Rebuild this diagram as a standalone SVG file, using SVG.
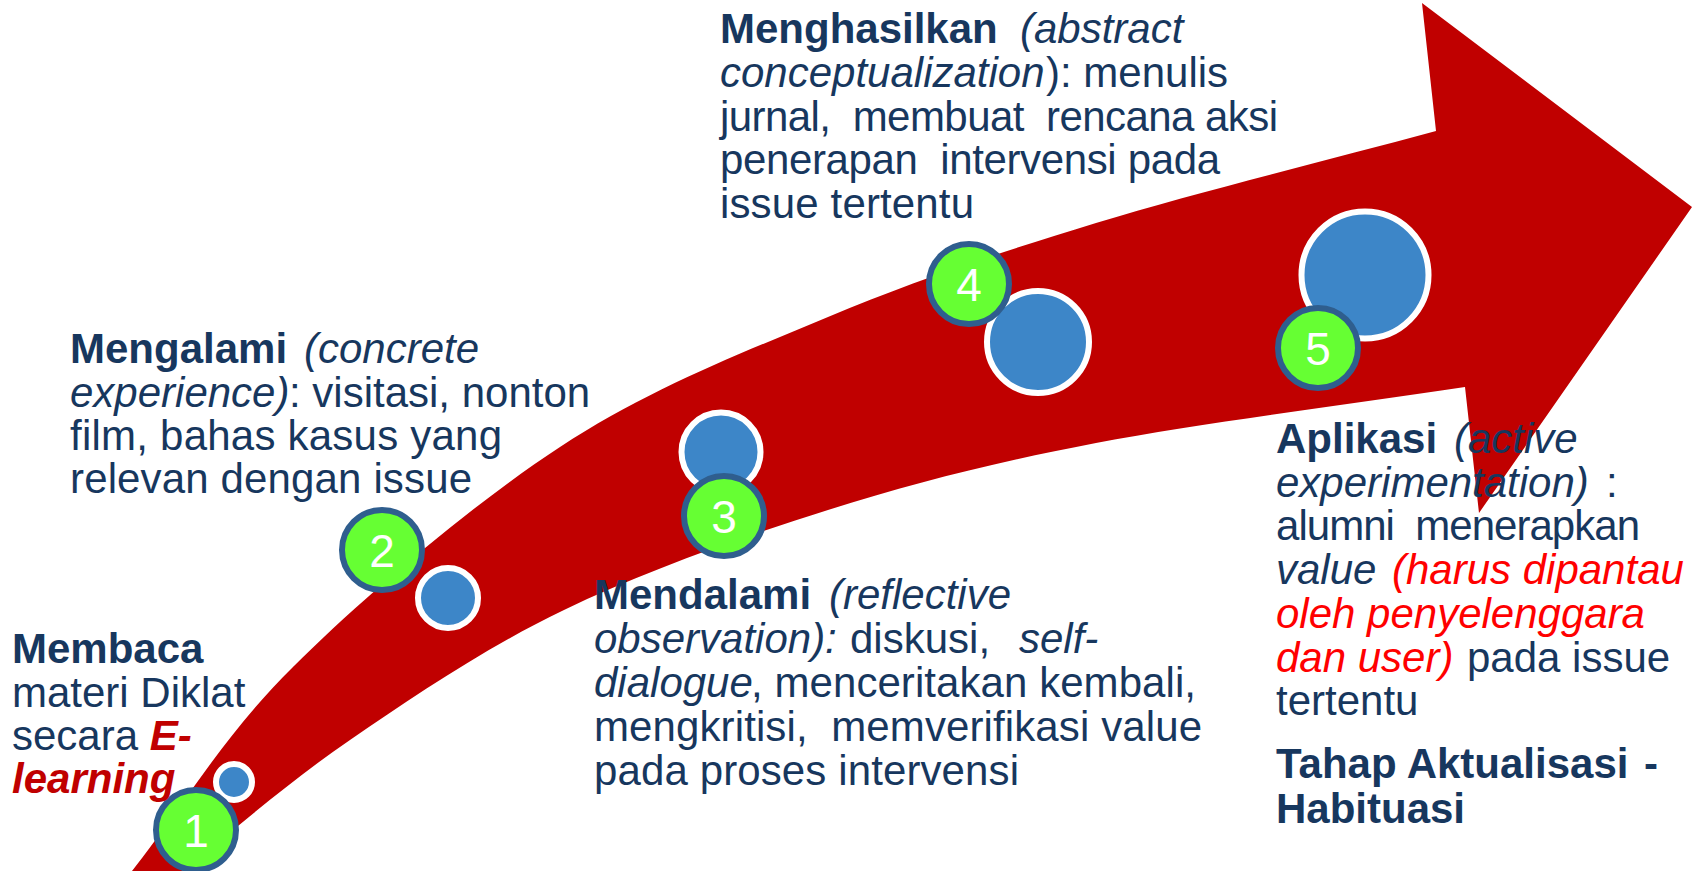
<svg xmlns="http://www.w3.org/2000/svg" width="1699" height="871" viewBox="0 0 1699 871">
<style>
  .t { font-family: "Liberation Sans", Arial, sans-serif; font-size: 42px; fill: #17375E; white-space: pre; }
  .b { font-weight: bold; }
  .i { font-style: italic; }
  .rd { fill: #C00000; font-weight: bold; font-style: italic; }
  .rr { fill: #FF0000; font-style: italic; }
  .g { fill: #66FF33; stroke: #2F5E8E; stroke-width: 6; }
  .bl { fill: #3D86C8; stroke: #FFFFFF; stroke-width: 6; }
  .n { font-family: "Liberation Sans", Arial, sans-serif; font-size: 46px; fill: #FFFFFF; text-anchor: middle; }
</style>
<rect width="1699" height="871" fill="#FFFFFF"/>
<g id="connectors">
  <path id="arrow" fill="#C00000" d="M132,871 C185.7,803 221.7,737.7 293,667 C364.3,596.3 470.8,505.3 560,447 C649.2,388.7 738.7,354.3 828,317 C917.3,279.7 994.7,254 1096,223 C1197.3,192 1322.7,161.7 1436,131 L1422,3 L1692,207 L1479,513 L1465,387 C1342,405.7 1202.2,422.5 1096,443 C989.8,463.5 916.7,482.2 828,510 C739.3,537.8 643.7,571.7 564,610 C484.3,648.3 413.7,696.5 350,740 C286.3,783.5 238,827.3 182,871 Z"/>
</g>
<g id="step1">
  <circle class="bl" cx="234" cy="782" r="18"/>
  <circle class="g" cx="196" cy="830" r="40"/>
  <text class="n" x="196" y="847">1</text>
</g>
<g id="step2">
  <circle class="bl" cx="448" cy="598" r="30"/>
  <circle class="g" cx="382" cy="550" r="40"/>
  <text class="n" x="382" y="567">2</text>
</g>
<g id="step3">
  <circle class="bl" cx="721" cy="452" r="39.5"/>
  <circle class="g" cx="724" cy="516" r="40"/>
  <text class="n" x="724" y="533">3</text>
</g>
<g id="step4">
  <circle class="bl" cx="1038" cy="342" r="51"/>
  <circle class="g" cx="969" cy="284" r="40"/>
  <text class="n" x="969" y="301">4</text>
</g>
<g id="step5">
  <circle class="bl" cx="1365" cy="275" r="63.5"/>
  <circle class="g" cx="1318" cy="348" r="40"/>
  <text class="n" x="1318" y="365">5</text>
</g>
<g id="text-membaca">
  <text class="t b" x="12" y="663">Membaca</text>
  <text class="t" x="12" y="707">materi Diklat</text>
  <text class="t" x="12" y="750">secara <tspan class="rd">E-</tspan></text>
  <text class="t rd" x="12" y="793">learning</text>
</g>
<g id="text-mengalami">
  <text class="t" y="363"><tspan class="b" x="70">Mengalami</tspan><tspan class="i" x="304">(concrete</tspan></text>
  <text class="t" y="407"><tspan class="i" x="70">experience)</tspan><tspan x="289">: visitasi, nonton</tspan></text>
  <text class="t" x="70" y="450" textLength="432" lengthAdjust="spacing">film, bahas kasus yang</text>
  <text class="t" x="70" y="493" textLength="402" lengthAdjust="spacing">relevan dengan issue</text>
</g>
<g id="text-mendalami">
  <text class="t" y="609"><tspan class="b" x="594">Mendalami</tspan><tspan class="i" x="829">(reflective</tspan></text>
  <text class="t" y="653"><tspan class="i" x="594">observation):</tspan><tspan x="850">diskusi,</tspan><tspan class="i" x="1019">self-</tspan></text>
  <text class="t" y="697"><tspan class="i" x="594">dialogue</tspan><tspan x="751" textLength="445" lengthAdjust="spacing">, menceritakan kembali,</tspan></text>
  <text class="t" x="594" y="741" textLength="608" lengthAdjust="spacing">mengkritisi,  memverifikasi value</text>
  <text class="t" x="594" y="785" textLength="425" lengthAdjust="spacing">pada proses intervensi</text>
</g>
<g id="text-menghasilkan">
  <text class="t" y="43"><tspan class="b" x="720">Menghasilkan</tspan><tspan class="i" x="1020">(abstract</tspan></text>
  <text class="t" y="87"><tspan class="i" x="720">conceptualization</tspan><tspan x="1046">): menulis</tspan></text>
  <text class="t" x="720" y="131" textLength="558" lengthAdjust="spacing">jurnal,  membuat  rencana aksi</text>
  <text class="t" x="720" y="174" textLength="500" lengthAdjust="spacing">penerapan  intervensi pada</text>
  <text class="t" x="720" y="218" textLength="254" lengthAdjust="spacing">issue tertentu</text>
</g>
<g id="text-aplikasi">
  <text class="t" y="453"><tspan class="b" x="1276">Aplikasi</tspan><tspan class="i" x="1454">(active</tspan></text>
  <text class="t" y="497"><tspan class="i" x="1276">experimentation)</tspan><tspan x="1606">:</tspan></text>
  <text class="t" x="1276" y="540" textLength="364" lengthAdjust="spacing">alumni  menerapkan</text>
  <text class="t" y="584"><tspan class="i" x="1276">value</tspan><tspan class="rr" x="1392">(harus dipantau</tspan></text>
  <text class="t rr" x="1276" y="628">oleh penyelenggara</text>
  <text class="t" y="672"><tspan class="rr" x="1276">dan user)</tspan><tspan x="1467">pada issue</tspan></text>
  <text class="t" x="1276" y="715">tertentu</text>
  <text class="t b" y="778"><tspan x="1276">Tahap Aktualisasi</tspan><tspan x="1644">-</tspan></text>
  <text class="t b" x="1276" y="823">Habituasi</text>
</g>
</svg>
